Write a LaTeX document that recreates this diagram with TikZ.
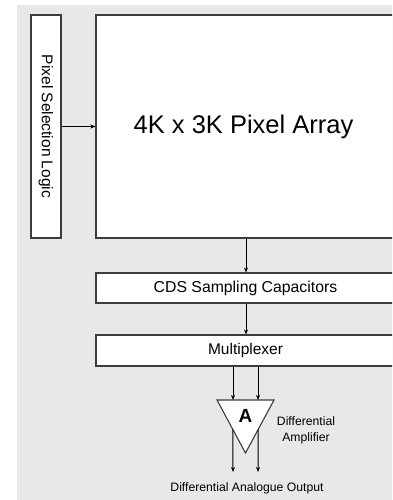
\documentclass[tikz,border=0pt]{standalone}
\usepackage{fontspec}
\setmainfont{Liberation Sans}
\usepackage{tikz}
\usetikzlibrary{calc, positioning, arrows.meta}

\definecolor{panelgrey}{HTML}{E8E8E8}
\definecolor{edgegrey}{HTML}{3C3C3C}

\tikzset{
  block/.style={draw=edgegrey, line width=1.1pt, fill=white, inner sep=0pt},
  arr/.style={-{Stealth[length=5pt,width=4pt]}, line width=1pt, black},
  small/.style={font=\fontsize{12.2}{16}\selectfont}
}

\begin{document}
\begin{tikzpicture}[x=1pt, y=-1pt]
  \useasboundingbox (0,0) rectangle (392,500);
  \clip (0,0) rectangle (392,500);

  % Grey panel behind everything
  \fill[panelgrey] (17,5) rectangle (440,505);

  % Blocks (the wide ones run off the right edge)
  \node[block, rotate=-90, minimum width=223pt, minimum height=30pt,
        font=\fontsize{15.5}{18}\selectfont] (psl) at (46,126.5) {Pixel Selection Logic};
  \node[block, minimum width=334pt, minimum height=223pt] (array) at (263,126.5) {};
  \node[block, minimum width=334pt, minimum height=30pt] (cds) at (263,288) {};
  \node[block, minimum width=334pt, minimum height=31pt] (mux) at (263,350.5) {};

  \node[font=\fontsize{25.5}{28}\selectfont] (arraytext) at (243.5,127) {4K x 3K Pixel Array};
  \node[font=\fontsize{15.8}{18}\selectfont] (cdstext) at (245.5,288) {CDS Sampling Capacitors};
  \node[font=\fontsize{15.5}{18}\selectfont] (muxtext) at (245.5,350.5) {Multiplexer};

  % Amplifier triangle
  \coordinate (ampL) at (217,400);
  \coordinate (ampR) at (274,400);
  \coordinate (ampT) at (245.5,453);
  \draw[edgegrey, line width=1.1pt, fill=white] (ampL) -- (ampR) -- (ampT) -- cycle;
  \node[font=\bfseries\fontsize{19}{20}\selectfont] (amp) at (245.5,415.5) {A};
  \node[small, align=center] (amplabel) at (306,430) {Differential\\Amplifier};

  % Signal path
  \coordinate (spine) at (246,0);
  \draw[arr] (psl) -- (psl -| array.west);
  \draw[arr] (array.south -| spine) -- (cds.north -| spine);
  \draw[arr] (cds.south -| spine) -- (mux.north -| spine);

  \foreach \x/\n/\s in {233/p/ampL, 258/m/ampR}
    {
      \coordinate (in\n) at (\x,400);
      \coordinate (out\n) at (\x,472);
      \draw[arr] (mux.south -| in\n) -- (in\n);
      \draw[arr] ($(\s)!0.56!(ampT)$ -| out\n) -- (out\n);
    }

  \node[small] (outlabel) at (247,488) {Differential Analogue Output};
\end{tikzpicture}
\end{document}
